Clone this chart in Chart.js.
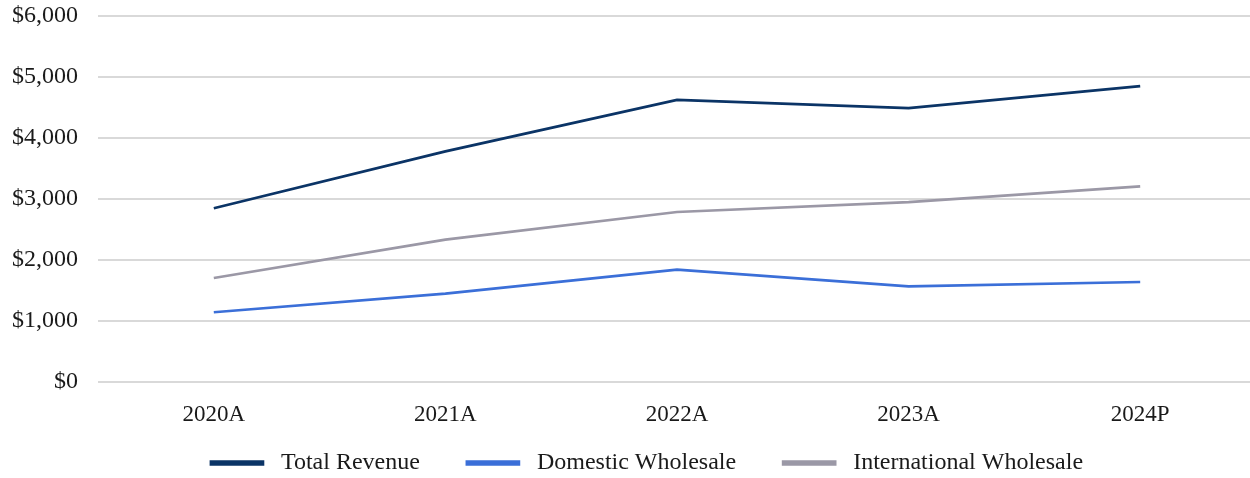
<!DOCTYPE html>
<html>
<head>
<meta charset="utf-8">
<script src="https://cdn.jsdelivr.net/npm/chart.js@4.4.1/dist/chart.umd.min.js"></script>
<style>
  html, body { margin: 0; padding: 0; background: #fff; overflow: hidden; }
  #wrap { width: 1258px; height: 478px; }
</style>
</head>
<body>
<div id="wrap"><canvas id="revenueChart" width="1258" height="478"></canvas></div>
<script>
const years = ['2020A', '2021A', '2022A', '2023A', '2024P'];
const totalRevenue = [2848, 3780, 4625, 4490, 4850];
const domesticWholesale = [1143, 1448, 1843, 1569, 1639];
const internationalWholesale = [1705, 2334, 2787, 2950, 3208];
const yTicks = [0, 1000, 2000, 3000, 4000, 5000, 6000];

const serif = '"Liberation Serif", "Times New Roman", serif';
const nbsp = n => '\u00a0'.repeat(n);
// extra space after each legend entry (last one pads the centring)
const legendTrail = [7, 7, 10];

const ctx = document.getElementById('revenueChart').getContext('2d');

new Chart(ctx, {
    type: 'line',
    data: {
        labels: years,
        datasets: [
            { label: 'Total Revenue', data: totalRevenue, borderColor: '#0b3466', backgroundColor: '#0b3466' },
            { label: 'Domestic Wholesale', data: domesticWholesale, borderColor: '#3b6fd8', backgroundColor: '#3b6fd8' },
            { label: 'International Wholesale', data: internationalWholesale, borderColor: '#9b98a6', backgroundColor: '#9b98a6' }
        ]
    },
    options: {
        responsive: false,
        animation: false,
        elements: {
            line: { borderWidth: 2.7, tension: 0 },
            point: { radius: 0, hoverRadius: 0 }
        },
        layout: { padding: { top: 16, right: 2, left: 0, bottom: 0 } },
        scales: {
            x: {
                offset: true,
                grid: { display: false },
                border: { display: false },
                ticks: { color: '#1a1a1a', font: { family: serif, size: 23 }, padding: 11, maxRotation: 0 },
                afterFit: function (scale) { scale.height = 64; }
            },
            y: {
                min: 0,
                max: 6000,
                afterBuildTicks: function (scale) {
                    scale.ticks = yTicks.map(v => ({ value: v }));
                },
                grid: { color: '#d9d9d9', lineWidth: 2, drawTicks: false },
                border: { display: false },
                ticks: {
                    color: '#1a1a1a',
                    font: { family: serif, size: 24 },
                    padding: 20,
                    callback: v => '$' + v.toLocaleString('en-US')
                },
                afterFit: function (scale) {
                    // fixed axis width; don't let the tick padding push the plot down
                    scale.width = 98;
                    scale.paddingTop = 0;
                    scale.paddingBottom = 0;
                }
            }
        },
        plugins: {
            tooltip: { enabled: false },
            legend: {
                position: 'bottom',
                fullSize: false,
                maxHeight: 32,
                labels: {
                    color: '#1a1a1a',
                    font: { family: serif, size: 24 },
                    boxWidth: 52,
                    boxHeight: 3,
                    padding: 5,
                    generateLabels: function (chart) {
                        const items = Chart.defaults.plugins.legend.labels.generateLabels(chart);
                        items.forEach((it, i) => { it.text = nbsp(1) + it.text + nbsp(legendTrail[i]); });
                        return items;
                    }
                }
            }
        }
    }
});
</script>
</body>
</html>
